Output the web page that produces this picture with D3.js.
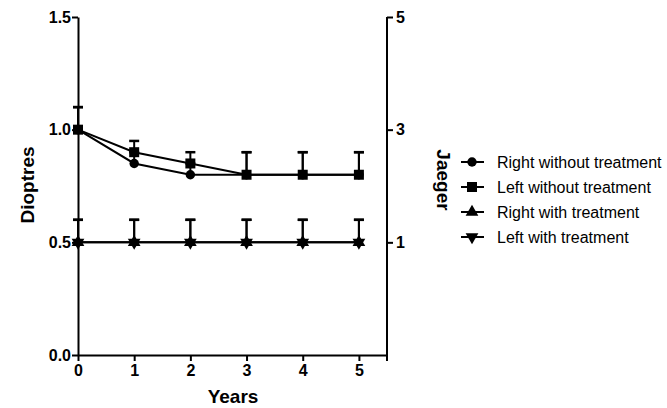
<!DOCTYPE html>
<html lang="en">
<head>
<meta charset="UTF-8">
<title>Dioptres and Jaeger over years</title>
<script src="https://d3js.org/d3.v7.min.js"></script>
<style>
  body { margin: 0; background: #fff; }
  text { font-family: "Liberation Sans", Arial, Helvetica, sans-serif; }
  .axis text { font-weight: bold; font-size: 16px; fill: #000; }
  .axis path, .axis line { stroke: #000; stroke-width: 2px; }
</style>
</head>
<body>
<svg width="667" height="408"></svg>
<script>
  const years = [0, 1, 2, 3, 4, 5]
  const seriesNames = ["Right without treatment", "Left without treatment", "Right with treatment", "Left with treatment"]
  const rightNoTreat = [1.0, 0.85, 0.8, 0.8, 0.8, 0.8]
  const rightNoTreatErr = [0.1, 0.05, 0.05, 0.1, 0.1, 0.1]
  const leftNoTreat = [1.0, 0.9, 0.85, 0.8, 0.8, 0.8]
  const leftNoTreatErr = [0.1, 0.05, 0.05, 0.1, 0.1, 0.1]
  const rightTreat = [0.5, 0.5, 0.5, 0.5, 0.5, 0.5]
  const rightTreatErr = [0.1, 0.1, 0.1, 0.1, 0.1, 0.1]
  const leftTreat = [0.5, 0.5, 0.5, 0.5, 0.5, 0.5]
  const leftTreatErr = [0.1, 0.1, 0.1, 0.1, 0.1, 0.1]
  const leftTicks = [0, 0.5, 1.0, 1.5]
  const rightTicks = [1, 3, 5]

  const svg = d3.select("svg")

  const x = d3.scaleLinear().domain([0, 5.5]).range([78, 387])
  const y = d3.scaleLinear().domain([0, 1.5]).range([355, 17])
  const yR = d3.scaleLinear().domain([-1, 5]).range([355, 17])

  // axes
  svg.append("g").attr("class", "axis")
    .attr("transform", "translate(0,355)")
    .call(d3.axisBottom(x).tickValues(years).tickFormat(d3.format("d")).tickSize(6).tickSizeOuter(0).tickPadding(4))

  svg.append("g").attr("class", "axis")
    .attr("transform", "translate(78,0)")
    .call(d3.axisLeft(y).tickValues(leftTicks).tickFormat(d3.format(".1f")).tickSize(6).tickSizeOuter(0).tickPadding(1))

  let gR = svg.append("g").attr("class", "axis")
    .attr("transform", "translate(387,0)")
    .call(d3.axisRight(yR).tickValues(rightTicks).tickFormat(d3.format("d")).tickSize(6).tickSizeOuter(0).tickPadding(3))
  gR.select(".domain").attr("d", "M0,17V361")

  svg.append("text").attr("x", 233).attr("y", 403).attr("text-anchor", "middle")
    .style("font-weight", "bold").style("font-size", "19px").text("Years")
  svg.append("text").attr("transform", "translate(34,185) rotate(-90)").attr("text-anchor", "middle")
    .style("font-weight", "bold").style("font-size", "19px").text("Dioptres")
  svg.append("text").attr("transform", "translate(437,180) rotate(90)").attr("text-anchor", "middle")
    .style("font-weight", "bold").style("font-size", "19px").text("Jaeger")

  const series = [
    { name: seriesNames[0], vals: rightNoTreat, err: rightNoTreatErr, sym: d3.symbolCircle, size: 70, rot: 0 },
    { name: seriesNames[1], vals: leftNoTreat, err: leftNoTreatErr, sym: d3.symbolSquare, size: 100, rot: 0 },
    { name: seriesNames[2], vals: rightTreat, err: rightTreatErr, sym: d3.symbolTriangle, size: 70, rot: 0 },
    { name: seriesNames[3], vals: leftTreat, err: leftTreatErr, sym: d3.symbolTriangle, size: 70, rot: 180 }
  ]

  const line = d3.line().x((d, i) => x(years[i])).y(d => y(d))

  series.forEach(s => {
    let g = svg.append("g")
    // error bars (upper only)
    s.vals.forEach((v, i) => {
      let top = y(v + s.err[i])
      g.append("line").attr("x1", x(years[i])).attr("x2", x(years[i]))
        .attr("y1", y(v)).attr("y2", top).attr("stroke", "#000").attr("stroke-width", 2)
      g.append("line").attr("x1", x(years[i]) - 5).attr("x2", x(years[i]) + 5)
        .attr("y1", top).attr("y2", top).attr("stroke", "#000").attr("stroke-width", 2.5)
    })
    g.append("path").datum(s.vals).attr("d", line)
      .attr("fill", "none").attr("stroke", "#000").attr("stroke-width", 2)
    g.selectAll(".pt").data(s.vals).enter().append("path")
      .attr("d", d3.symbol().type(s.sym).size(s.size))
      .attr("transform", (d, i) => `translate(${x(years[i])},${y(d)}) rotate(${s.rot})`)
      .attr("fill", "#000")
  })

  // legend
  let leg = svg.append("g")
  series.forEach((s, i) => {
    let ly = 162 + i * 25
    leg.append("line").attr("x1", 461).attr("x2", 484).attr("y1", ly).attr("y2", ly)
      .attr("stroke", "#000").attr("stroke-width", 2)
    leg.append("path").attr("d", d3.symbol().type(s.sym).size(s.size))
      .attr("transform", `translate(472,${ly}) rotate(${s.rot})`).attr("fill", "#000")
    leg.append("text").attr("x", 497).attr("y", ly + 5.5)
      .style("font-size", "16px").text(s.name)
  })
</script>
</body>
</html>
